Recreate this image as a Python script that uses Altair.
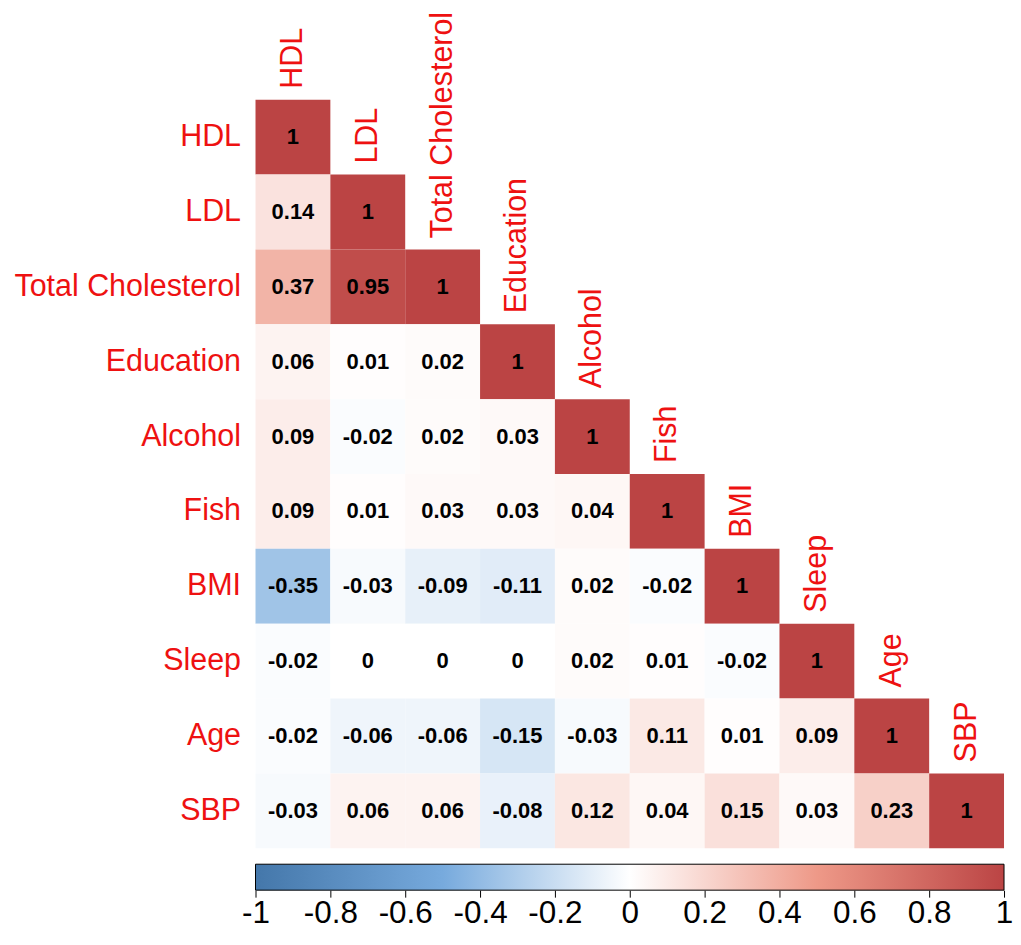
import altair as alt
import pandas as pd

variables = ["HDL", "LDL", "Total Cholesterol", "Education", "Alcohol",
             "Fish", "BMI", "Sleep", "Age", "SBP"]

row_hdl = [1]
row_ldl = [0.14, 1]
row_tc = [0.37, 0.95, 1]
row_edu = [0.06, 0.01, 0.02, 1]
row_alc = [0.09, -0.02, 0.02, 0.03, 1]
row_fish = [0.09, 0.01, 0.03, 0.03, 0.04, 1]
row_bmi = [-0.35, -0.03, -0.09, -0.11, 0.02, -0.02, 1]
row_sleep = [-0.02, 0, 0, 0, 0.02, 0.01, -0.02, 1]
row_age = [-0.02, -0.06, -0.06, -0.15, -0.03, 0.11, 0.01, 0.09, 1]
row_sbp = [-0.03, 0.06, 0.06, -0.08, 0.12, 0.04, 0.15, 0.03, 0.23, 1]

corr_rows = [row_hdl, row_ldl, row_tc, row_edu, row_alc,
             row_fish, row_bmi, row_sleep, row_age, row_sbp]

colorbar_ticks = [-1, -0.8, -0.6, -0.4, -0.2, 0, 0.2, 0.4, 0.6, 0.8, 1]
palette_domain = [-1, -0.5, 0, 0.5, 1]
palette_range = ["#4477AA", "#77AADD", "#FFFFFF", "#EE9988", "#BB4444"]

records = []
for i, row in enumerate(corr_rows):
    for j, v in enumerate(row):
        records.append({"row": variables[i], "col": variables[j],
                        "value": v, "label": f"{v:g}"})
cells = pd.DataFrame(records)
diag = pd.DataFrame({"row": variables, "col": variables})

FONT = "Liberation Sans"
LABEL_RED = "#EE1111"
CELL = 75

x_enc = alt.X("col:N", sort=variables, axis=None,
              scale=alt.Scale(paddingInner=0, paddingOuter=0))
y_enc = alt.Y("row:N", sort=variables, title=None,
              scale=alt.Scale(paddingInner=0, paddingOuter=0),
              axis=alt.Axis(labelColor=LABEL_RED, labelFontSize=30.5, labelFont=FONT,
                            ticks=False, domain=False, labelPadding=15,
                            labelLimit=400))

rects = alt.Chart(cells).mark_rect().encode(
    x=x_enc, y=y_enc,
    color=alt.Color("value:Q", legend=None,
                    scale=alt.Scale(domain=palette_domain, range=palette_range,
                                    interpolate="rgb")),
)
nums = alt.Chart(cells).mark_text(font=FONT, fontSize=22, fontWeight="bold",
                                  color="black").encode(
    x=x_enc, y=y_enc, text="label:N")
diag_labels = alt.Chart(diag).mark_text(
    font=FONT, fontSize=30.5, color=LABEL_RED, angle=270,
    align="left", baseline="middle", dx=CELL / 2 + 11,
).encode(x=x_enc, y=y_enc, text="col:N")

heat = alt.layer(rects, nums, diag_labels).properties(width=750, height=750)

bar_df = pd.DataFrame({"lo": [colorbar_ticks[0]], "hi": [colorbar_ticks[-1]]})
gradient = alt.Gradient(
    gradient="linear", x1=0, x2=1, y1=0, y2=0,
    stops=[alt.GradientStop(offset=(d + 1) / 2, color=c)
           for d, c in zip(palette_domain, palette_range)],
)
colorbar = alt.Chart(bar_df).mark_rect(fill=gradient, stroke="black",
                                       strokeWidth=1).encode(
    x=alt.X("lo:Q", title=None,
            scale=alt.Scale(domain=[colorbar_ticks[0], colorbar_ticks[-1]], nice=False),
            axis=alt.Axis(values=colorbar_ticks, labelFontSize=31.5, labelFont=FONT,
                          labelColor="black", tickColor="black", tickSize=7,
                          tickWidth=1, domain=False, grid=False, labelFlush=False,
                          labelPadding=0, labelExpr="'' + datum.value",
                          labelOverlap=False)),
    x2="hi:Q",
).properties(width=750, height=26)

chart = alt.vconcat(heat, colorbar, spacing=15).properties(
    padding={"left": 5, "top": 2, "right": 0, "bottom": 0}
).configure_view(stroke=None)

chart.save("out.html", embed_options={"renderer": "svg", "actions": False})
